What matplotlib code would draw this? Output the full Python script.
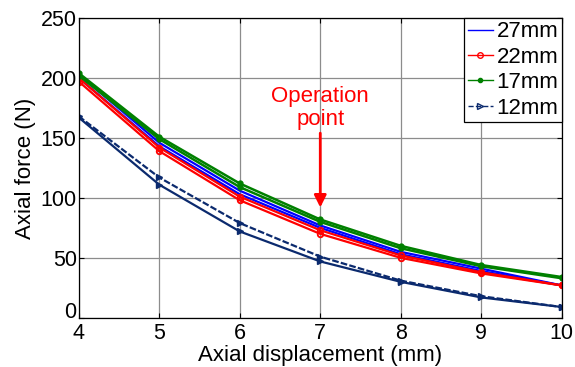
import matplotlib.pyplot as plt
from matplotlib.lines import Line2D

plt.rcParams['font.family'] = ['Liberation Sans', 'DejaVu Sans']

displacement = [4, 5, 6, 7, 8, 9, 10]

# two runs per gap size
force_27_a = [203, 146, 106, 77, 55, 41, 27]
force_27_b = [200, 143, 103, 75, 53, 39, 27]
force_22_a = [200, 142, 101, 73, 52, 38, 27]
force_22_b = [197, 139, 98, 70, 50, 37, 27]
force_17_a = [204, 151, 112, 82, 60, 44, 34]
force_17_b = [202, 149, 109, 80, 58, 43, 33]
force_12_a = [168, 117, 79, 51, 31, 18, 9]
force_12_b = [167, 111, 72, 47, 30, 17, 9]

labels = ['27mm', '22mm', '17mm', '12mm']

blue = '#0000ff'
red = '#ff0000'
green = '#008000'
navy = '#0b2a6e'

fig = plt.figure(figsize=(5.75, 3.67), dpi=100)
ax = fig.add_axes([0.137, 0.134, 0.840, 0.817])

ax.plot(displacement, force_27_a, '-', color=blue, lw=1.6)
ax.plot(displacement, force_27_b, '-', color=blue, lw=1.6)
ax.plot(displacement, force_22_a, '-o', color=red, lw=1.6, ms=4,
        mfc='none', mew=1.3)
ax.plot(displacement, force_22_b, '-o', color=red, lw=1.6, ms=4,
        mfc='none', mew=1.3)
ax.plot(displacement, force_17_a, '-o', color=green, lw=1.8, ms=3.5)
ax.plot(displacement, force_17_b, '-o', color=green, lw=1.8, ms=3.5)
ax.plot(displacement, force_12_a, '--', color=navy, lw=1.6, marker='>',
        ms=5, dashes=(3, 1))
ax.plot(displacement, force_12_b, '-', color=navy, lw=1.6, marker='>', ms=5)

ax.set_xlim(4, 10)
ax.set_ylim(0, 250)
ax.set_xticks(displacement)
ax.set_yticks(range(0, 251, 50))
ax.grid(True, color='#8c8c8c', lw=0.9)
ax.tick_params(direction='in', top=True, right=True, labelsize=15.5)
ax.tick_params(axis='x', pad=3.5)
ax.tick_params(axis='y', pad=1.5)
# sit the "0" on its tick so it clears the first x label
ax.get_yticklabels()[0].set_verticalalignment('baseline')
for sp in ax.spines.values():
    sp.set_linewidth(0.9)
ax.set_xlabel('Axial displacement (mm)', fontsize=16, labelpad=1)
ax.set_ylabel('Axial force (N)', fontsize=16, labelpad=3)

ax.annotate('', xy=(7, 92), xytext=(7, 154),
            arrowprops=dict(arrowstyle='-|>', color=red, lw=2,
                            mutation_scale=18, shrinkA=0, shrinkB=0))
ax.text(7, 180, 'Operation', color=red, fontsize=16,
        ha='center', va='baseline')
ax.text(7, 161, 'point', color=red, fontsize=16,
        ha='center', va='baseline')

# thin legend keys
handles = [
    Line2D([], [], color=blue, lw=1),
    Line2D([], [], color=red, lw=1, marker='o', ms=4, mfc='none', mew=1),
    Line2D([], [], color=green, lw=1, marker='o', ms=3),
    Line2D([], [], color=navy, lw=1, ls='--', marker='>', ms=5, mfc='none'),
]
leg = ax.legend(handles, labels, loc='upper right', fontsize=16,
                frameon=True, fancybox=False, edgecolor='black', framealpha=1,
                borderaxespad=0, handlelength=1.15, handletextpad=0.15,
                borderpad=0.15, labelspacing=0.2)
leg.get_frame().set_linewidth(0.9)

fig.savefig('out.png', dpi=100)
